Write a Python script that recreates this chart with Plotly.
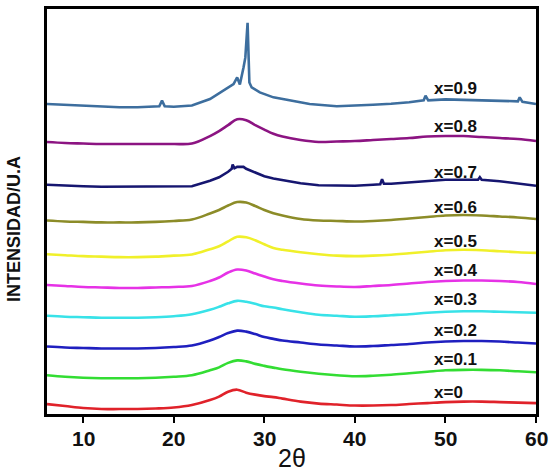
import plotly.graph_objects as go

# ---- data (intensity in arbitrary units, offsets included) ----
TWO_THETA = [6, 8, 10, 12, 14, 16, 18, 20, 22, 24, 25, 26, 27, 28, 29, 30, 31, 32,
             34, 36, 38, 40, 42, 44, 46, 48, 50, 52, 54, 56, 58, 60]

I_x0 = [11, 9, 7, 6, 6, 6, 6.5, 7.5, 10, 15, 18.5, 23.5, 25.5, 22.5, 20.5, 19, 18, 16.5,
        13.5, 11.5, 10.5, 9.5, 9.5, 10, 11, 12, 13, 13.5, 13.5, 13, 12.5, 12]
I_x01 = [40, 38.5, 37.5, 37, 37, 37, 37.5, 38.5, 40, 45, 48, 52.5, 55, 54, 51.5, 49.5, 47.7, 46,
         43.5, 41.5, 40, 39, 39.5, 40.5, 42, 43.5, 45, 45.5, 45.5, 45, 44, 43]
I_x02 = [69, 68, 67.5, 67, 67, 67, 67.5, 68.5, 70, 75, 78.5, 82.5, 85, 84, 81.5, 78.5, 76.7, 75,
         73, 71, 70, 69, 69.5, 70.5, 71.5, 73, 74, 74.5, 74.5, 74, 73, 72]
I_x03 = [100, 99, 98.5, 98, 98, 98, 98.5, 99.5, 101.5, 106, 109, 112.5, 115, 114, 112, 109.5, 108.3, 106.5,
         103.5, 101, 100, 99, 99.5, 100.5, 101.5, 103, 104, 104.5, 104.5, 104, 103.5, 103]
I_x04 = [131, 130, 129, 128.5, 128, 128, 128.5, 129, 130, 135, 138.5, 143.5, 146.5, 145.5, 142.5, 139.5, 136.7, 135,
         132.5, 130.5, 129.5, 129, 130, 131, 132.5, 134, 135, 135.5, 135.5, 135, 134, 132]
I_x05 = [162, 161, 160, 159.5, 159, 159, 159.5, 160.5, 161.7, 167, 170, 175, 179.5, 179, 176, 172, 168.3, 166.5,
         164, 162, 160.5, 160, 160.5, 161.5, 163, 164.5, 166, 166.5, 166, 165, 164, 163.3]
I_x06 = [196, 195, 194.5, 194, 194, 194, 194.5, 195.5, 197, 203, 206.5, 211, 214.5, 214, 210.5, 206.5, 203.3, 201,
         197.5, 196, 195.5, 195, 195.5, 196.5, 198, 199.5, 201, 201.5, 201, 200, 199, 197.5]
I_x08 = [275, 274, 273.5, 273, 273, 273, 273, 273, 273.5, 281, 286, 292, 298, 297, 292, 287.5, 283.3, 280.5,
         277, 275, 275.5, 276, 277, 278, 279, 280.5, 281, 281, 280, 279, 278, 276]

TWO_THETA_x07 = [6, 8, 10, 12, 14, 16, 18, 20, 22, 24, 25, 26, 26.4, 26.5, 26.7, 27, 27.7, 28, 29, 30,
                 31, 32, 34, 36, 38, 40, 42, 42.8, 43, 43.2, 44, 46, 48, 50, 52, 53.6, 53.8, 54, 56, 58, 60]
I_x07 = [232, 231, 230.5, 230, 230, 230, 230, 230, 230.5, 236, 239.5, 245, 248, 252.3, 248.5, 250, 250, 248, 244, 240.5,
         238.3, 236.5, 233.5, 231.5, 231, 231, 232, 232.5, 237.5, 233, 233, 234.5, 236, 237, 237, 237, 239.5, 237, 235.5, 233.5, 231]

TWO_THETA_x09 = [6, 8, 10, 12, 14, 16, 18, 18.4, 18.7, 19, 20, 22, 24, 25.5, 26.6, 27, 27.3, 27.7, 27.9, 28.15,
                 28.35, 28.6, 29.5, 31, 33, 35, 38, 40, 42, 44, 46, 47.6, 47.8, 48.1, 50, 52, 54, 56, 58, 58.2, 58.5, 60]
I_x09 = [313.3, 312.5, 311.5, 310.5, 310, 310, 310.5, 311, 316.7, 311, 310.5, 311.7, 318.3, 326.7, 333.3, 340, 333, 350, 360, 395,
         335, 330, 325, 320, 316.5, 313.3, 311, 311.5, 312.5, 313.5, 315, 317, 321.7, 317, 318, 317.5, 317, 316.5, 316, 320, 315.5, 313.3]

SERIES = ["x=0", "x=0.1", "x=0.2", "x=0.3", "x=0.4", "x=0.5", "x=0.6", "x=0.7", "x=0.8", "x=0.9"]
X_DATA = [TWO_THETA] * 7 + [TWO_THETA_x07, TWO_THETA, TWO_THETA_x09]
Y_DATA = [I_x0, I_x01, I_x02, I_x03, I_x04, I_x05, I_x06, I_x07, I_x08, I_x09]
COLORS = ["#e0222a", "#33dd33", "#1f1fbf", "#38e2e8", "#e632e6", "#f0f02a",
          "#8c8c28", "#161670", "#8c1482", "#3d6e9e"]
SHAPES = ["spline"] * 7 + ["linear", "spline", "linear"]
LABEL_Y = [23, 56, 85, 116, 146, 175, 209, 244, 291, 329]
LABEL_X = 48.55

X_TICKS = [10, 20, 30, 40, 50, 60]
X_TICK_TEXT = ["10", "20", "30", "40", "50", "60"]

FONT = "Liberation Sans"

fig = go.Figure()
for name, xs, ys, c, sh in zip(SERIES, X_DATA, Y_DATA, COLORS, SHAPES):
    fig.add_trace(go.Scatter(x=xs, y=ys, mode="lines", name=name,
                             line=dict(color=c, width=2.6, shape=sh)))

for name, ly in zip(SERIES, LABEL_Y):
    fig.add_annotation(x=LABEL_X, y=ly, xref="x", yref="y", text="<b>" + name + "</b>",
                       showarrow=False, xanchor="left", yanchor="middle",
                       font=dict(family=FONT, size=17, color="#111111"))

# bold tick labels placed at the axis tick values
for tv, tt in zip(X_TICKS, X_TICK_TEXT):
    fig.add_annotation(x=tv, y=-0.061, xref="x", yref="paper", text="<b>" + tt + "</b>",
                       showarrow=False, xanchor="center", yanchor="middle",
                       font=dict(family=FONT, size=21, color="#111111"))

fig.add_annotation(x=-0.066, y=0.456, xref="paper", yref="paper", text="<b>INTENSIDAD/U.A</b>",
                   textangle=-90, showarrow=False, xanchor="center", yanchor="middle",
                   font=dict(family=FONT, size=18, color="#111111"))
fig.add_annotation(x=0.5, y=-0.108, xref="paper", yref="paper", text="2θ",
                   showarrow=False, xanchor="center", yanchor="middle",
                   font=dict(family=FONT, size=25, color="#111111"))

fig.update_layout(
    width=552, height=472, margin=dict(l=47, r=16, t=6, b=58),
    paper_bgcolor="white", plot_bgcolor="white", showlegend=False,
    xaxis=dict(range=[6, 60], tickmode="array", tickvals=X_TICKS, showticklabels=False,
               ticks="outside", ticklen=6, tickwidth=2, tickcolor="black", showline=True,
               linecolor="black", linewidth=2.5, mirror=True, showgrid=False, zeroline=False),
    yaxis=dict(range=[1, 409], showticklabels=False, ticks="", showline=True,
               linecolor="black", linewidth=2.5, mirror=True, showgrid=False, zeroline=False),
)

fig.write_html("out.html")
